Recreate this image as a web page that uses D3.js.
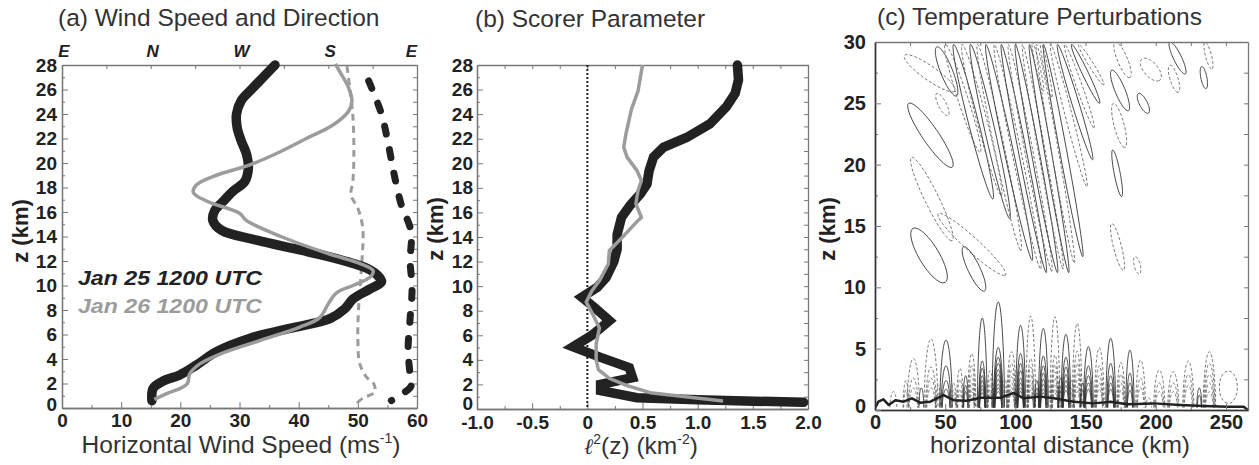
<!DOCTYPE html>
<html>
<head>
<meta charset="utf-8">
<script src="https://cdn.jsdelivr.net/npm/d3@7"></script>
<style>
  body { margin: 0; background: #fff; }
  svg { font-family: "Liberation Sans", Arial, sans-serif; }
</style>
</head>
<body>
<script>
// ---- (a) wind speed [z km, m/s] and direction [z km, deg] ----
const speed25 = [[28,36],[27,34],[26,32],[25.1,30.3],[24,29.5],[22.9,29.6],[21.8,30.3],[20.7,31.2],[19.6,31.5],[18.5,30.9],[17.7,28.9],[16.9,27.3],[16.1,25.8],[15.3,25.5],[14.5,27],[13.7,32.9],[12.9,40.2],[12.4,44.7],[11.8,49.2],[11.3,52],[10.8,53.4],[10.3,54],[9.7,52],[8.9,49.2],[8.1,47.8],[7.3,45.3],[6.5,38.5],[5.7,31.8],[4.6,26.1],[3.5,22.7],[2.7,19.9],[2.2,17.1],[1.6,15.4],[0.6,15.2]];
const speed26 = [[28.1,46.2],[27,47.5],[26.2,48.4],[25.1,49],[24.2,48.4],[23.1,45.8],[22,41.3],[20.9,36.8],[19.8,31.5],[19,26.1],[18.2,22.7],[17.6,22.2],[16.9,24.4],[15.9,30],[15.3,31.2],[14,37],[12.6,45],[11.8,50.3],[11.2,52.6],[10.8,52.3],[10.5,51.5],[10,49.2],[9.4,46.4],[8.5,45],[7.4,43.6],[6.6,40.2],[5.5,33.4],[4.4,26.7],[3.6,23.3],[2.8,21.6],[2,21.2],[1.6,20],[1.2,17.8],[0.7,15.6]];
const dir25 = [[26.7,139],[24,126],[21.5,119],[19,113],[16.6,106],[14.4,96],[12,97],[9.8,95],[7.3,97],[4.8,99],[2.7,97],[1.8,96],[1.2,104],[0.6,116]];
const dir26 = [[27.9,161],[26,158],[23.8,155],[21,154],[18.5,155],[17.4,157],[16.3,150],[14.7,145],[11.8,146],[8.5,149],[5.8,150],[3.6,148],[2.5,141],[2,134],[1.3,133],[0.8,145],[0.4,151]];
const compass = [[450,"E"],[360,"N"],[270,"W"],[180,"S"],[90,"E"]];

// ---- (b) Scorer parameter [z km, l^2 km^-2] ----
const scorer25 = [[28,1.36],[26.8,1.37],[25.7,1.34],[24.6,1.26],[23.2,1.11],[22.1,0.9],[21.3,0.69],[20.5,0.6],[19.4,0.56],[18.3,0.54],[17.5,0.48],[16.6,0.39],[15.6,0.31],[14.2,0.27],[13,0.27],[12,0.24],[10.7,0.17],[9.9,0.09],[9.1,-0.05],[8.3,0.06],[7.2,0.2],[6,0.04],[5.06,-0.13],[4.2,0.12],[3.37,0.38],[2.55,0.41],[2.0,0.12],[1.5,0.12],[0.92,0.45],[0.75,1.0],[0.54,1.96]];
const scorer26 = [[28,0.5],[25.9,0.46],[24.4,0.4],[22.4,0.35],[21.3,0.33],[20.5,0.36],[19.4,0.45],[18.6,0.49],[17.8,0.46],[16.7,0.44],[15.6,0.49],[15.35,0.46],[14,0.32],[12.9,0.2],[11.8,0.19],[10.45,0.11],[9.6,0.04],[8.7,-0.01],[7.7,0.05],[6.6,0.11],[5.3,0.08],[4,0.08],[3.2,0.1],[2.5,0.2],[1.9,0.36],[1.33,0.57],[0.65,1.23]];
const scorerTicks = [-1,-0.5,0,0.5,1,1.5,2];
const scorerLabels = ["-1.0","-0.5","0","0.5","1.0","1.5","2.0"];

// ---- (c) temperature perturbation contours ----
const terrain = [[0,0.14],[2.4,0.68],[6,0.87],[9.7,0.41],[14.5,0.8],[20.4,0.68],[26.3,0.95],[32.3,0.6],[39.4,0.68],[48.9,1.22],[56,0.8],[65.5,0.75],[75,1.0],[89.2,1.0],[98.8,1.4],[105.9,0.95],[117.8,1.09],[127.3,0.95],[141.5,0.68],[155.8,0.54],[167.7,0.68],[179.6,0.46],[198.6,0.54],[217.6,0.41],[234.2,0.33],[250.8,0.27],[262.6,0.27],[265.7,0]];
// low-level lobes: [x km, solid/dashed, half width km, contour tops km]
const lobes = [
  [13.1,"d",2.5,[1.5]],
  [22,"d",2,[2.4,1.6]],
  [27.3,"d",4.5,[4.2,2.6,1.8]],
  [33,"s",1.8,[1.8]],
  [39.9,"d",5,[5.8,3.5,2.6,1.8]],
  [45,"d",2,[2.0,1.4]],
  [50.6,"s",4.5,[5.7,3.6,2.4,1.7]],
  [56,"d",2,[2.2,1.6,1.2]],
  [60.5,"d",2.5,[3.4,2.5,1.7,1.3]],
  [64.6,"s",2,[2.8,2.0,1.5]],
  [68.9,"d",3,[4.6,3.6,2.8,2.2,1.8,1.5,1.2]],
  [76.4,"s",3.5,[7.5,4.0,3.4,2.8,2.4,2.0,1.7,1.4]],
  [82,"d",2.5,[3.2,2.6,2.1,1.7,1.4,1.2]],
  [87.8,"s",4.5,[8.8,5.1,4.3,3.8,3.3,2.9,2.5,2.1,1.8,1.5]],
  [92.6,"d",2,[2.5,1.9,1.5,1.2]],
  [97.3,"d",3.5,[4.75,3.8,3.2,2.7,2.2,1.8,1.5,1.3]],
  [103.7,"s",3.5,[6.9,4.6,3.8,3.2,2.6,2.2,1.8,1.5]],
  [110.9,"d",3.5,[7.65,4.2,3.5,2.9,2.4,2.0,1.6,1.3]],
  [115.3,"s",1.8,[2.4,1.8,1.4]],
  [119.9,"s",3.5,[6.65,4.4,3.6,3.0,2.5,2.1,1.7,1.4]],
  [124.2,"d",1.8,[2.5,1.9,1.5]],
  [128.2,"d",3.5,[7.6,4.5,3.7,3.1,2.6,2.1,1.7,1.4]],
  [132.2,"s",1.8,[2.6,1.9,1.5]],
  [136,"s",3.5,[6.16,4.3,3.5,2.9,2.4,2.0,1.6]],
  [140,"d",1.8,[2.4,1.8,1.4]],
  [144,"d",3.5,[7.06,4.8,3.8,3.0,2.4,1.9,1.5]],
  [148,"s",1.8,[2.2,1.6]],
  [152,"s",3.5,[5.16,3.6,2.8,2.2,1.7]],
  [159.8,"d",3.5,[5.07,3.6,2.8,2.2,1.7]],
  [167.9,"s",3.5,[5.84,3.8,2.8,2.2,1.7]],
  [175.2,"d",3,[3.88,2.9,2.2,1.6]],
  [181.6,"s",3,[4.88,3.0,2.2,1.6]],
  [189.2,"d",3.5,[4.07,2.6,1.8]],
  [195,"d",2,[1.0]],
  [202.5,"d",4,[3.26,2.2,1.5]],
  [212.5,"d",4,[3.12,2.2,1.5]],
  [223.2,"d",4,[3.99,2.9,2.0]],
  [231,"s",1.8,[1.8,1.2]],
  [238.2,"d",4.5,[4.75,3.8,2.9,2.2,1.5]]
];
// upper slanted cells: [solid/dashed, x top, z top, x bottom, z bottom, half thickness px]
const cells = [
  ["d",21,28.9,57,26.0,7],["s",44,29.6,58,25.6,6],["s",24,25.0,55,19.8,8],
  ["d",26,20.6,55,13.8,7],["s",27,14.8,50,10.4,10],["d",45,16.0,93,11.0,7],
  ["s",63,13.3,78,9.7,6],["d",44,25.8,52,24,4],
  ["d",50,29.8,75,21.0,5],["s",56,29.8,84,17.2,5],["d",62,29.8,90,17.5,5],
  ["s",68,29.8,96,15.6,5],["d",73,29.8,104,13.0,5],["s",79,29.8,112,12.2,4.5],
  ["d",85,29.8,118,11.5,4.5],["s",90,29.8,122,11.2,4],["d",95,29.8,126,11.3,4],
  ["s",100,29.8,130,11.2,4],["d",105,29.8,134,11.5,3.5],["s",110,29.8,138,11.2,3.5],
  ["d",115,29.8,142,12.0,3.5],["s",120,29.8,148,12.5,3.5],["d",125,29.8,151,18.2,3.5],
  ["s",130,29.8,155,20.4,3.5],["d",135,29.8,156,23,3],["s",140,29.8,160,25,3],
  ["d",145,29.8,163,26.5,2.5],["d",112,30,120,26,2],["d",118,30,126,25.5,2],
  ["d",171,30,181.6,27.1,5],["s",168.6,27.7,180.5,24.4,5],["d",169.8,25,178,21.4,5],
  ["d",190,28.6,203,26.9,7],["s",187.6,25.8,194.7,24.2,4],["s",169.3,21.2,175.7,17.4,3],
  ["s",210,30,221,27.4,4],["d",210,28.1,216,25.9,4],["d",235,30,240,27.8,3],
  ["s",232.7,28,235.8,26.2,3],["d",168.6,15.2,176.9,11.4,4],["d",185.2,12.5,188.3,11.1,3],
  ["d",251.7,3.18,251.7,0.54,9]
];

const width = 1259, height = 465;
const black = "#222", gray = "#9c9c9c", frameCol = "#777";

const svg = d3.select("body").append("svg")
    .attr("width", width)
    .attr("height", height);

// scales
const xA = d3.scaleLinear([0, 60], [62, 417]);
const dirA = d3.scaleLinear([450, 90], [62, 417]);
const yA = d3.scaleLinear([0, 28], [408, 65]);
const xB = d3.scaleLinear([-1, 2], [477, 808]);
const yB = d3.scaleLinear([0, 28], [409, 65]);
const xC = d3.scaleLinear([0, 265.7], [875, 1248]);
const yC = d3.scaleLinear([0, 30], [410, 42]);

function styleAxis(g, fs) {
    g.select(".domain").attr("stroke", frameCol).attr("stroke-width", 1.3);
    g.selectAll(".tick line").attr("stroke", frameCol).attr("stroke-width", 1);
    g.selectAll("text").attr("fill", black).style("font-size", fs + "px").style("font-weight", "bold").attr("font-family", null);
    return g;
}

// draw four sides of a panel with inward ticks
function frame(x, y, o) {
    const [x0, x1] = x.range(), [y0, y1] = y.range();
    const add = (axis, tx, ty) => svg.append("g").attr("transform", `translate(${tx},${ty})`).call(axis);
    styleAxis(add(d3.axisBottom(x).tickValues(o.xMinor).tickSize(-3).tickSizeOuter(0).tickFormat(""), 0, y0), o.fs);
    styleAxis(add(d3.axisTop(o.xTopScale || x).tickValues(o.xTop).tickSize(-4).tickSizeOuter(0).tickFormat(""), 0, y1), o.fs);
    styleAxis(add(d3.axisLeft(y).tickValues(o.yMinor).tickSize(-3).tickSizeOuter(0).tickFormat(""), x0, 0), o.fs);
    styleAxis(add(d3.axisRight(y).tickValues(o.yRight).tickSize(-4).tickSizeOuter(0).tickFormat(""), x1, 0), o.fs);
    const bx = styleAxis(add(d3.axisBottom(x).tickValues(o.xMajor).tickSize(-6).tickSizeOuter(0).tickPadding(o.xPad).tickFormat(o.xFmt), 0, y0), o.fs);
    const ly = styleAxis(add(d3.axisLeft(y).tickValues(o.yMajor).tickSize(-6).tickSizeOuter(0).tickPadding(o.yPad).tickFormat(d3.format("d")), x0, 0), o.fs);
    // lift the zero label a little so it clears the first x label
    ly.selectAll(".tick text").filter(d => d === 0).attr("dy", o.zeroDy || "0.12em");
    if (o.dark) {
        bx.select(".domain").attr("stroke", "#333").attr("stroke-width", 1.6);
        ly.select(".domain").attr("stroke", "#333").attr("stroke-width", 1.6);
    }
}

function title(txt, x, y) {
    svg.append("text").attr("x", x).attr("y", y)
        .attr("fill", "#333").style("font-size", "24.5px").text(txt);
}

function zLabel(x, y) {
    svg.append("text").attr("transform", `translate(${x},${y}) rotate(-90)`)
        .attr("text-anchor", "middle").attr("fill", black)
        .style("font-size", "22px").style("font-weight", "bold").text("z (km)");
}

// ================= (a) =================
title("(a) Wind Speed and Direction", 58, 26);
frame(xA, yA, {
    fs: 19, xPad: 6, yPad: 5,
    xMajor: d3.range(0, 61, 10), xMinor: d3.range(5, 60, 10), xFmt: d3.format("d"),
    xTopScale: dirA, xTop: d3.range(450, 89, -45),
    yMajor: d3.range(0, 29, 2), yMinor: d3.range(1, 28, 2), yRight: d3.range(0, 29, 1)
});

compass.forEach(([deg, lab], i) => {
    const last = i === compass.length - 1;
    svg.append("text")
        .attr("x", last ? dirA(deg) : dirA(deg) + 2)
        .attr("y", 57)
        .attr("text-anchor", last ? "end" : "middle")
        .attr("fill", black)
        .style("font-size", "17px").style("font-weight", "bold").style("font-style", "italic")
        .text(lab);
});

const gA = svg.append("g");
const speedLine = d3.line().x(d => xA(d[1])).y(d => yA(d[0])).curve(d3.curveCatmullRom);
const dirLine = d3.line().x(d => dirA(d[1])).y(d => yA(d[0])).curve(d3.curveCatmullRom);

gA.append("path").attr("d", dirLine(dir26)).attr("fill", "none")
    .attr("stroke", gray).attr("stroke-width", 3).attr("stroke-dasharray", "7,5");
gA.append("path").attr("d", dirLine(dir25)).attr("fill", "none")
    .attr("stroke", black).attr("stroke-width", 7).attr("stroke-linecap", "round")
    .attr("stroke-dasharray", "8,16");
gA.append("path").attr("d", speedLine(speed25)).attr("fill", "none")
    .attr("stroke", black).attr("stroke-width", 9.5).attr("stroke-linecap", "round").attr("stroke-linejoin", "round");
gA.append("path").attr("d", speedLine(speed26)).attr("fill", "none")
    .attr("stroke", gray).attr("stroke-width", 3.5).attr("stroke-linejoin", "round");

[["Jan 25 1200 UTC", black, 285], ["Jan 26 1200 UTC", gray, 313]].forEach(([t, c, y]) => {
    svg.append("text").attr("x", 78).attr("y", y).attr("fill", c)
        .attr("textLength", 184).attr("lengthAdjust", "spacingAndGlyphs")
        .style("font-size", "19.5px").style("font-weight", "bold").style("font-style", "italic")
        .text(t);
});

zLabel(28, 231);
const labA = svg.append("text").attr("x", 241).attr("y", 453).attr("text-anchor", "middle")
    .attr("fill", "#333").style("font-size", "24.5px");
labA.append("tspan").text("Horizontal Wind Speed (ms");
labA.append("tspan").attr("dy", -10).style("font-size", "14px").text("-1");
labA.append("tspan").attr("dy", 10).text(")");

// ================= (b) =================
title("(b) Scorer Parameter", 475, 27);
frame(xB, yB, {
    fs: 19, xPad: 7, yPad: 4, zeroDy: "0em",
    xMajor: scorerTicks, xMinor: d3.range(-0.75, 2, 0.5),
    xFmt: d => scorerLabels[scorerTicks.indexOf(d)],
    xTop: d3.range(-1, 2.01, 0.25),
    yMajor: d3.range(0, 29, 2), yMinor: d3.range(1, 28, 2), yRight: d3.range(0, 29, 1)
});

const gB = svg.append("g");
gB.append("line").attr("x1", xB(0)).attr("x2", xB(0)).attr("y1", yB(28)).attr("y2", yB(0))
    .attr("stroke", black).attr("stroke-width", 2).attr("stroke-dasharray", "2,2");
const scorerLine = d3.line().x(d => xB(d[1])).y(d => yB(d[0]));
gB.append("path").attr("d", scorerLine(scorer25)).attr("fill", "none")
    .attr("stroke", black).attr("stroke-width", 9.5).attr("stroke-linecap", "round")
    .attr("stroke-linejoin", "miter").attr("stroke-miterlimit", 3);
gB.append("path").attr("d", scorerLine(scorer26)).attr("fill", "none")
    .attr("stroke", gray).attr("stroke-width", 3.5).attr("stroke-linejoin", "round");

zLabel(443, 229);
const labB = svg.append("text").attr("x", 641).attr("y", 454).attr("text-anchor", "middle")
    .attr("fill", "#333").style("font-size", "24.5px");
labB.append("tspan").style("font-style", "italic").style("font-size", "22px").attr("font-family", "DejaVu Serif").text("\u2113");
labB.append("tspan").attr("dy", -10).style("font-size", "14px").text("2");
labB.append("tspan").attr("dy", 10).text("(z) (km");
labB.append("tspan").attr("dy", -10).style("font-size", "14px").text("-2");
labB.append("tspan").attr("dy", 10).text(")");

// ================= (c) =================
title("(c) Temperature Perturbations", 877, 25);

svg.append("clipPath").attr("id", "clipC").append("rect")
    .attr("x", xC(0)).attr("y", yC(30)).attr("width", xC(265.7) - xC(0)).attr("height", yC(0) - yC(30));

const gC = svg.append("g").attr("clip-path", "url(#clipC)");
const contourStyle = (sel, type) => sel.attr("fill", "none")
    .attr("stroke", type === "s" ? "#333" : "#666")
    .attr("stroke-width", 0.9)
    .attr("stroke-dasharray", type === "s" ? null : "3,2");

// arches rising from the ground
const base = 0.2;
const archLine = d3.line().x(d => xC(d[0])).y(d => yC(d[1]));
lobes.forEach(([x, type, hw, tops]) => {
    const top0 = tops[0];
    tops.forEach(top => {
        const w = hw * (0.45 + 0.55 * (top - base) / (top0 - base));
        const pts = d3.range(-1, 1.0001, 0.05).map(u => [x + w * u, base + (top - base) * Math.pow(Math.max(0, 1 - u * u), 0.6)]);
        contourStyle(gC.append("path").attr("d", archLine(pts)), type);
    });
});

// slanted closed cells aloft
cells.forEach(([type, xt, zt, xb, zb, hw]) => {
    const p0 = [xC(xt), yC(zt)], p1 = [xC(xb), yC(zb)];
    const mx = (p0[0] + p1[0]) / 2, my = (p0[1] + p1[1]) / 2;
    const dx = (p1[0] - p0[0]) / 2, dy = (p1[1] - p0[1]) / 2;
    const len = Math.hypot(dx, dy);
    const nx = -dy / len, ny = dx / len;
    const pts = d3.range(0, 2 * Math.PI, Math.PI / 24).map(t =>
        [mx + dx * Math.cos(t) + nx * hw * Math.sin(t), my + dy * Math.cos(t) + ny * hw * Math.sin(t)]);
    contourStyle(gC.append("path").attr("d", d3.line().curve(d3.curveCardinalClosed)(pts)), type);
});

gC.append("path").attr("d", archLine(terrain)).attr("fill", "none")
    .attr("stroke", black).attr("stroke-width", 2.5).attr("stroke-linejoin", "round");

frame(xC, yC, {
    fs: 20, xPad: 5, yPad: 9, dark: true,
    xMajor: d3.range(0, 251, 50), xMinor: d3.range(25, 260, 50), xFmt: d3.format("d"),
    xTop: d3.range(0, 251, 25),
    yMajor: d3.range(0, 31, 5), yMinor: d3.range(2.5, 30, 5), yRight: d3.range(0, 30.1, 2.5)
});

zLabel(835, 229);
svg.append("text").attr("x", 1060).attr("y", 453).attr("text-anchor", "middle")
    .attr("fill", "#333").style("font-size", "24.5px").text("horizontal distance (km)");
</script>
</body>
</html>
